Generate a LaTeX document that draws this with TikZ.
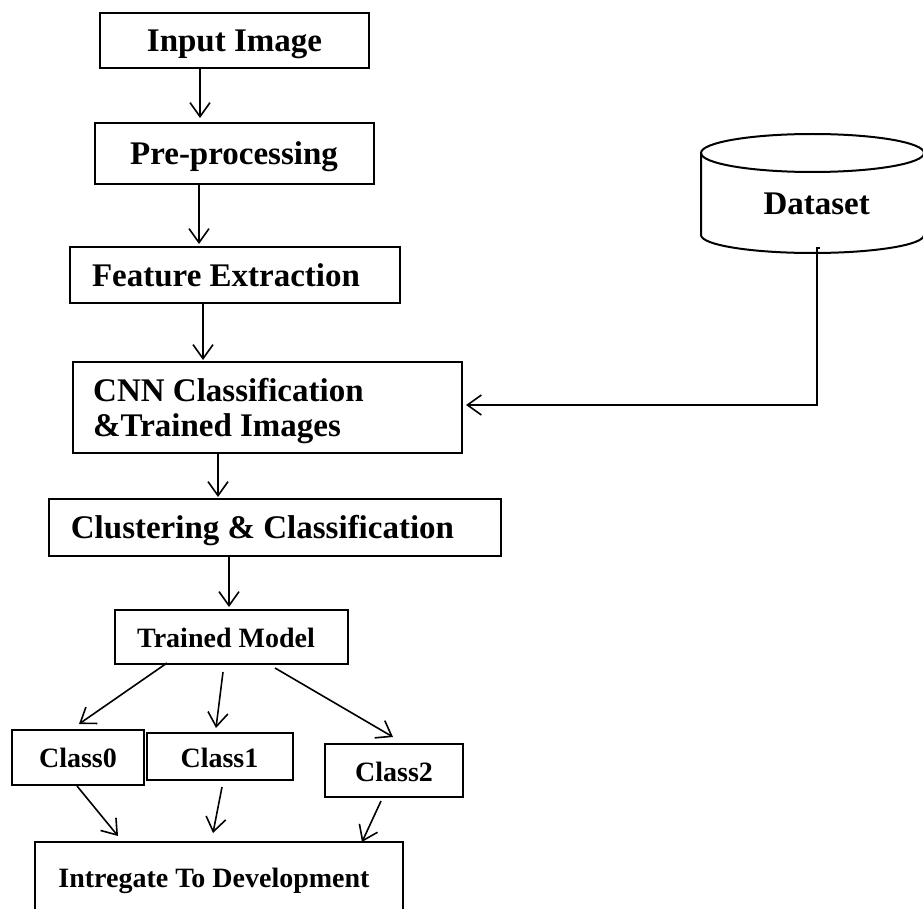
\documentclass[tikz,border=0pt]{standalone}
\usepackage{fontspec}
\setmainfont{Liberation Serif}
\usetikzlibrary{arrows.meta,calc}
\begin{document}
\begin{tikzpicture}[x=1pt,y=-1pt,
  box/.style={draw,line width=2.2pt,inner sep=0pt,outer sep=0pt},
  big/.style={font=\fontsize{33}{35}\selectfont\bfseries,inner sep=0pt},
  small/.style={font=\fontsize{28}{32}\selectfont\bfseries,inner sep=0pt},
  arr/.style={line width=1.6pt,-{Straight Barb[length=14pt,width=20pt]}}]
\useasboundingbox (0,0) rectangle (923,909);
% boxes
\node[box,minimum width=269pt,minimum height=55pt] (in) at (234.5,40.5) {};
\node[box,minimum width=279pt,minimum height=61pt] (pre) at (234.5,153.5) {};
\node[box,minimum width=330pt,minimum height=56pt] (fe) at (235,275) {};
\node[box,minimum width=389pt,minimum height=91pt] (cnn) at (267.5,407.5) {};
\node[box,minimum width=452pt,minimum height=57pt] (cl) at (275,527.5) {};
\node[box,minimum width=233pt,minimum height=54pt] (tm) at (231.5,637) {};
\node[box,minimum width=132pt,minimum height=55pt] (c0) at (78,757.5) {};
\node[box,minimum width=146pt,minimum height=47pt] (c1) at (220,756.5) {};
\node[box,minimum width=138pt,minimum height=53pt] (c2) at (394,770.5) {};
\node[box,minimum width=368pt,minimum height=88pt] (ig) at (219,886) {};
% texts
\node[big,anchor=base] (tin) at (234.5,52) {Input Image};
\node[big,anchor=base] (tpre) at (234,165) {Pre-processing};
\node[big,anchor=base] (tfe) at (226,286) {Feature Extraction};
\node[big,anchor=base west] (tcnna) at (93,401.5) {CNN Classification};
\node[big,anchor=base west] (tcnnb) at (93,436.5) {\&Trained Images};
\node[big,anchor=base] (tcl) at (262.5,538) {Clustering \& Classification};
\node[small,anchor=base] (ttm) at (226,647.7) {Trained Model};
\node[small,anchor=base] (tc0) at (78,767.7) {Class0};
\node[small,anchor=base] (tc1) at (219.5,767.7) {Class1};
\node[small,anchor=base] (tc2) at (394,781) {Class2};
\node[small,anchor=base] (tig) at (214,887) {Intregate To Development};
% dataset cylinder
\draw[line width=2pt] (812.5,153) ellipse [x radius=111.5, y radius=19];
\draw[line width=2pt] (701,153) -- (701,235)
  .. controls (701,244.9) and (750.9,253) .. (812.5,253)
  .. controls (874.1,253) and (924,244.9) .. (924,235) -- (924,153);
\node[big,anchor=base] (tds) at (816.7,215) {Dataset};
\coordinate (dsout) at (817,248);
% arrows
\draw[arr] ($(in.south)+(-34.5,0)$) -- ($(pre.north)+(-34.5,-5)$);
\draw[arr] ($(pre.south)+(-35.5,0)$) -- ($(fe.north)+(-36,-3)$);
\draw[arr] ($(fe.south)+(-32,0)$) -- ($(cnn.north)+(-64.5,-2)$);
\draw[arr] ($(cnn.south)+(-49.5,0)$) -- ($(cl.north)+(-57,-2)$);
\draw[arr] ($(cl.south)+(-46,0)$) -- ($(tm.north)+(-2.5,-3)$);
\draw[arr] ($(tm.south)+(-64.5,-1)$) -- ($(c0.north)+(1,-6)$);
\draw[arr] ($(tm.south)+(-8.5,8)$) -- ($(c1.north)+(-4,-5)$);
\draw[arr] ($(tm.south)+(43.5,4)$) -- ($(c2.north)+(-1,-7)$);
\draw[arr] ($(c0.south)+(-1,1)$) -- ($(ig.north)+(-101,-6)$);
\draw[arr] ($(c1.south)+(2,7)$) -- ($(ig.north)+(-6,-9)$);
\draw[arr] ($(c2.south)+(-13,4)$) -- ($(ig.north)+(143,0)$);
\draw[arr] ($(dsout)+(3,0)$) -- (dsout) |- ($(cnn.east)+(4,-2.5)$);
\end{tikzpicture}
\end{document}
